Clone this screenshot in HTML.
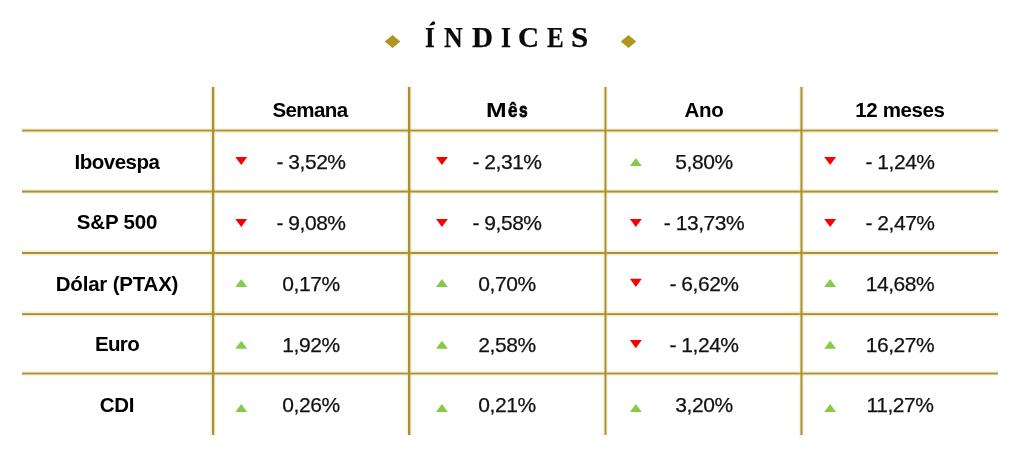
<!DOCTYPE html>
<html><head><meta charset="utf-8">
<style>
html,body{margin:0;padding:0;background:#fff;}
body{width:1024px;height:457px;position:relative;overflow:hidden;-webkit-font-smoothing:antialiased;font-family:"Liberation Sans",sans-serif;color:#111;}
.t{position:absolute;height:24px;line-height:24px;font-size:21px;letter-spacing:-0.45px;text-align:center;white-space:nowrap;-webkit-text-stroke:0.25px #111;}
.b{font-weight:bold;color:#000;font-size:20.5px;letter-spacing:-0.2px;-webkit-text-stroke:0;}
.c0{left:17px;width:200px;}
.c1{left:211px;width:200px;}
.c2{left:407px;width:200px;}
.c3{left:604px;width:200px;}
.c4{left:800px;width:200px;}
.dia{position:absolute;width:11px;height:11px;background:#b09520;transform:scaleY(0.84) rotate(45deg);}
.tl{position:absolute;font-family:"Liberation Serif",serif;font-weight:bold;font-size:29.5px;line-height:30px;top:22px;color:#0a0a0a;transform-origin:0 0;-webkit-text-stroke:0.25px #0a0a0a;}
</style></head><body><div id="w" style="position:absolute;left:0;top:0;width:1024px;height:457px;will-change:transform;">
<!-- title -->
<div class="dia" style="left:387px;top:35.5px;"></div>
<div class="dia" style="left:622.8px;top:36px;"></div>
<div class="tl" style="left:425.45px;transform:scaleX(0.853)">I</div>
<svg style="position:absolute;left:0;top:0" width="460" height="40" viewBox="0 0 460 40"><path d="M428.9 25.8 L432.27 21.66 A1.8 1.8 0 1 1 434.13 24.74 Z" fill="#0a0a0a"/></svg>
<div class="tl" style="left:443.61px;transform:scaleX(0.875)">N</div>
<div class="tl" style="left:472.49px;transform:scaleX(0.987)">D</div>
<div class="tl" style="left:500.84px;transform:scaleX(0.864)">I</div>
<div class="tl" style="left:518.38px;transform:scaleX(0.988)">C</div>
<div class="tl" style="left:546.77px;transform:scaleX(0.849)">E</div>
<div class="tl" style="left:570.85px;transform:scaleX(1.053)">S</div>

<!-- lines -->
<div style="position:absolute;left:22px;width:976px;top:128px;height:5px;background:linear-gradient(to bottom,rgba(230,210,80,0.22) 0 1px,rgba(168,145,50,0.45) 1px 2px,rgba(168,145,50,1) 2px 3px,rgba(168,145,50,0.55) 3px 4px,rgba(230,210,80,0.22) 4px 5px)"></div>
<div style="position:absolute;left:22px;width:976px;top:189px;height:5px;background:linear-gradient(to bottom,rgba(230,210,80,0.22) 0 1px,rgba(168,145,50,0.5) 1px 2px,rgba(168,145,50,1) 2px 3px,rgba(168,145,50,0.6) 3px 4px,rgba(230,210,80,0.22) 4px 5px)"></div>
<div style="position:absolute;left:22px;width:976px;top:250px;height:6px;background:linear-gradient(to bottom,rgba(230,210,80,0.22) 0 1px,rgba(168,145,50,0.15) 1px 2px,rgba(168,145,50,1) 2px 3px,rgba(168,145,50,1) 3px 4px,rgba(168,145,50,0.15) 4px 5px,rgba(230,210,80,0.22) 5px 6px)"></div>
<div style="position:absolute;left:22px;width:976px;top:311px;height:6px;background:linear-gradient(to bottom,rgba(230,210,80,0.22) 0 1px,rgba(168,145,50,0.15) 1px 2px,rgba(168,145,50,0.85) 2px 3px,rgba(168,145,50,1) 3px 4px,rgba(168,145,50,0.2) 4px 5px,rgba(230,210,80,0.22) 5px 6px)"></div>
<div style="position:absolute;left:22px;width:976px;top:371px;height:5px;background:linear-gradient(to bottom,rgba(230,210,80,0.22) 0 1px,rgba(168,145,50,0.45) 1px 2px,rgba(168,145,50,1) 2px 3px,rgba(168,145,50,0.5) 3px 4px,rgba(230,210,80,0.22) 4px 5px)"></div>
<div style="position:absolute;top:87px;height:348px;left:210px;width:6px;background:linear-gradient(to right,rgba(230,210,80,0.22) 0 1px,rgba(168,145,50,0.15) 1px 2px,rgba(168,145,50,1) 2px 3px,rgba(168,145,50,1) 3px 4px,rgba(168,145,50,0.3) 4px 5px,rgba(230,210,80,0.22) 5px 6px)"></div>
<div style="position:absolute;top:87px;height:348px;left:406px;width:6px;background:linear-gradient(to right,rgba(230,210,80,0.22) 0 1px,rgba(168,145,50,0.1) 1px 2px,rgba(168,145,50,1) 2px 3px,rgba(168,145,50,1) 3px 4px,rgba(168,145,50,0.4) 4px 5px,rgba(230,210,80,0.22) 5px 6px)"></div>
<div style="position:absolute;top:87px;height:348px;left:603px;width:5px;background:linear-gradient(to right,rgba(230,210,80,0.22) 0 1px,rgba(168,145,50,0.55) 1px 2px,rgba(168,145,50,1) 2px 3px,rgba(168,145,50,0.5) 3px 4px,rgba(230,210,80,0.22) 4px 5px)"></div>
<div style="position:absolute;top:87px;height:348px;left:799px;width:5px;background:linear-gradient(to right,rgba(230,210,80,0.22) 0 1px,rgba(168,145,50,0.6) 1px 2px,rgba(168,145,50,1) 2px 3px,rgba(168,145,50,0.55) 3px 4px,rgba(230,210,80,0.22) 4px 5px)"></div>

<!-- triangles -->
<svg style="position:absolute;left:0;top:0" width="1024" height="457" viewBox="0 0 1024 457">
<polygon points="235.30,156.90 247.20,156.90 241.25,165.10" fill="#fa0000"/>
<polygon points="436.00,156.90 447.90,156.90 441.95,165.10" fill="#fa0000"/>
<polygon points="635.85,157.90 641.80,165.90 629.90,165.90" fill="#86cb48"/>
<polygon points="824.20,156.90 836.10,156.90 830.15,165.10" fill="#fa0000"/>
<polygon points="235.30,218.90 247.20,218.90 241.25,227.10" fill="#fa0000"/>
<polygon points="436.00,218.90 447.90,218.90 441.95,227.10" fill="#fa0000"/>
<polygon points="629.90,218.90 641.80,218.90 635.85,227.10" fill="#fa0000"/>
<polygon points="824.20,218.90 836.10,218.90 830.15,227.10" fill="#fa0000"/>
<polygon points="241.25,279.10 247.20,287.10 235.30,287.10" fill="#86cb48"/>
<polygon points="441.95,279.10 447.90,287.10 436.00,287.10" fill="#86cb48"/>
<polygon points="629.90,278.70 641.80,278.70 635.85,286.90" fill="#fa0000"/>
<polygon points="830.15,279.10 836.10,287.10 824.20,287.10" fill="#86cb48"/>
<polygon points="241.25,340.70 247.20,348.70 235.30,348.70" fill="#86cb48"/>
<polygon points="441.95,340.70 447.90,348.70 436.00,348.70" fill="#86cb48"/>
<polygon points="629.90,340.10 641.80,340.10 635.85,348.30" fill="#fa0000"/>
<polygon points="830.15,340.70 836.10,348.70 824.20,348.70" fill="#86cb48"/>
<polygon points="241.25,404.00 247.20,412.00 235.30,412.00" fill="#86cb48"/>
<polygon points="441.95,404.00 447.90,412.00 436.00,412.00" fill="#86cb48"/>
<polygon points="635.85,404.00 641.80,412.00 629.90,412.00" fill="#86cb48"/>
<polygon points="830.15,404.00 836.10,412.00 824.20,412.00" fill="#86cb48"/>
</svg>

<!-- header -->
<div class="t b c1" style="top:98px;left:210px;letter-spacing:-0.6px">Semana</div>
<div class="t b" style="top:98px;left:486.45px;letter-spacing:0;transform:scaleX(1.207);transform-origin:0 0">M</div>
<div class="t b" style="top:98px;left:508.2px;letter-spacing:0;transform:scaleX(0.83);transform-origin:0 0;-webkit-text-stroke:0.7px #000">ê</div>
<div class="t b" style="top:98px;left:518.7px;letter-spacing:0;transform:scaleX(0.76);transform-origin:0 0;-webkit-text-stroke:0.8px #000">s</div>
<div class="t b c3" style="top:98px">Ano</div>
<div class="t b c4" style="top:98px;letter-spacing:-0.38px">12 meses</div>

<!-- row 1 -->
<div class="t b c0" style="top:150px;letter-spacing:-0.5px">Ibovespa</div>
<div class="t c1" style="top:150px">- 3,52%</div>
<div class="t c2" style="top:150px">- 2,31%</div>
<div class="t c3" style="top:150px">5,80%</div>
<div class="t c4" style="top:150px">- 1,24%</div>

<!-- row 2 -->
<div class="t b c0" style="top:210px">S&amp;P 500</div>
<div class="t c1" style="top:211px">- 9,08%</div>
<div class="t c2" style="top:211px">- 9,58%</div>
<div class="t c3" style="top:211px">- 13,73%</div>
<div class="t c4" style="top:211px">- 2,47%</div>

<!-- row 3 -->
<div class="t b c0" style="top:272px">Dólar (PTAX)</div>
<div class="t c1" style="top:272px">0,17%</div>
<div class="t c2" style="top:272px">0,70%</div>
<div class="t c3" style="top:272px">- 6,62%</div>
<div class="t c4" style="top:272px">14,68%</div>

<!-- row 4 -->
<div class="t b c0" style="top:332px;letter-spacing:-0.65px">Euro</div>
<div class="t c1" style="top:333px">1,92%</div>
<div class="t c2" style="top:333px">2,58%</div>
<div class="t c3" style="top:333px">- 1,24%</div>
<div class="t c4" style="top:333px">16,27%</div>

<!-- row 5 -->
<div class="t b c0" style="top:393px">CDI</div>
<div class="t c1" style="top:393px">0,26%</div>
<div class="t c2" style="top:393px">0,21%</div>
<div class="t c3" style="top:393px">3,20%</div>
<div class="t c4" style="top:393px">11,27%</div>
</div></body></html>
